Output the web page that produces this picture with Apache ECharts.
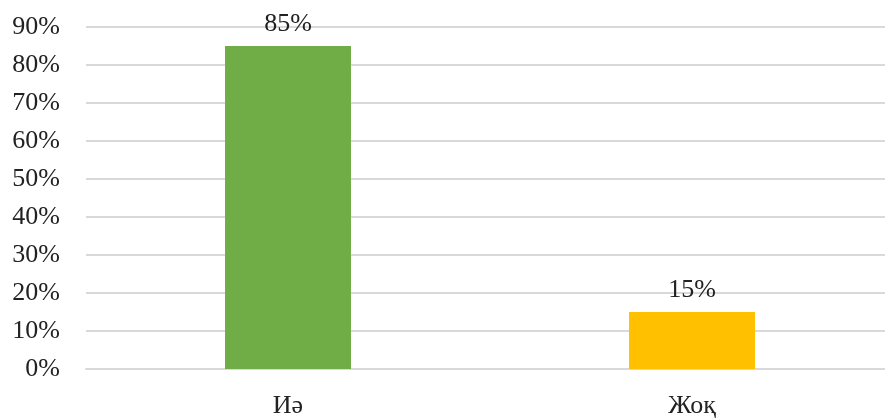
<!DOCTYPE html>
<html><head><meta charset="utf-8">
<script src="https://cdn.jsdelivr.net/npm/echarts@6/dist/echarts.min.js"></script>
<style>html,body{margin:0;padding:0;background:#fff;overflow:hidden;width:885px;height:419px}#wrap{width:885px;height:419px;overflow:hidden;position:relative}#c{width:900px;height:419px;position:absolute;left:0;top:0}</style>
</head><body><div id="wrap"><div id="c"></div></div>
<script>
const categories = ['Иә', 'Жоқ'];
const values = [85, 15];
const barColors = ['#70AD47', '#FFC000'];
const yTicks = [0, 10, 20, 30, 40, 50, 60, 70, 80, 90];

const chart = echarts.init(document.getElementById('c'));
const font = '"Liberation Serif", "Times New Roman", serif';
chart.setOption({
  animation: false,
  grid: { left: 86, top: 27, width: 808, height: 345, containLabel: false },
  xAxis: {
    type: 'category', data: categories,
    axisLine: { show: true, lineStyle: { color: '#D9D9D9', width: 2 } },
    axisTick: { show: false },
    axisLabel: { color: '#222', fontFamily: font, fontSize: 26, margin: 24 }
  },
  yAxis: {
    type: 'value', min: 0, max: yTicks[yTicks.length - 1], interval: 10,
    axisLine: { show: false }, axisTick: { show: false },
    splitLine: { lineStyle: { color: '#D9D9D9', width: 2 } },
    axisLabel: { color: '#222', fontFamily: font, fontSize: 26, margin: 26, formatter: v => v + '%' }
  },
  series: [{
    type: 'bar', barWidth: 126,
    data: values.map((v, i) => ({ value: v, itemStyle: { color: barColors[i] } })),
    label: { show: true, position: 'top', distance: 9, color: '#222', fontFamily: font, fontSize: 26, formatter: p => p.value + '%' }
  }]
});
</script></body></html>
